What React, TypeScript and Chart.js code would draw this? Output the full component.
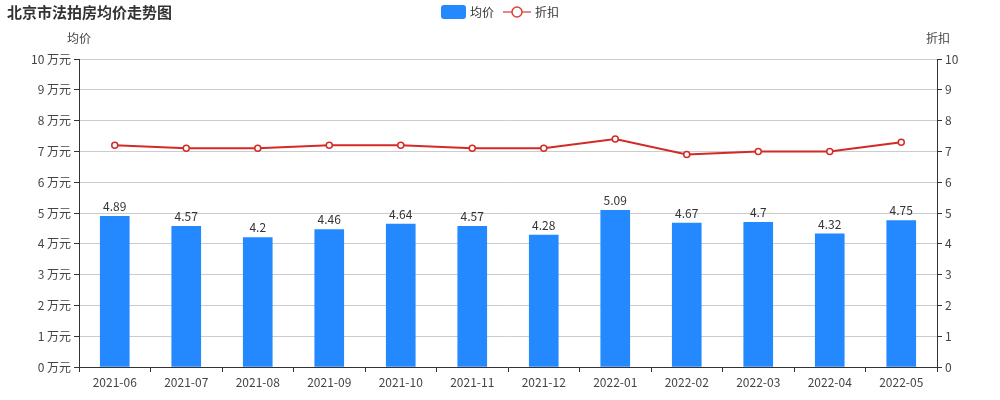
import React, { useEffect, useRef } from "react";
import { Chart, registerables } from "chart.js";

Chart.register(...registerables);

const months = ["2021-06","2021-07","2021-08","2021-09","2021-10","2021-11","2021-12","2022-01","2022-02","2022-03","2022-04","2022-05"];
const avgPrice = [4.89, 4.57, 4.2, 4.46, 4.64, 4.57, 4.28, 5.09, 4.67, 4.7, 4.32, 4.75];
const discount = [7.2, 7.1, 7.1, 7.2, 7.2, 7.1, 7.1, 7.4, 6.9, 7.0, 7.0, 7.3];
const titleText = "北京市法拍房均价走势图";
const leftAxisTitle = "均价";
const rightAxisTitle = "折扣";
const seriesNames = ["均价", "折扣"];

const FONT = "'Noto Sans CJK SC', 'Noto Sans', sans-serif";
const BAR_COLOR = "#2489ff";
const LINE_COLOR = "#d42a26";
const TEXT = "#444";

const overlay = {
  id: "overlay",
  afterDatasetsDraw(chart: any) {
    const ctx = chart.ctx;
    const meta = chart.getDatasetMeta(0);
    ctx.save();
    ctx.font = `12px ${FONT}`;
    ctx.fillStyle = "#333";
    ctx.textAlign = "center";
    ctx.textBaseline = "bottom";
    meta.data.forEach((bar: any, i: number) => {
      ctx.fillText(String(avgPrice[i]), bar.x, bar.y - 4);
    });
    ctx.restore();
  },
  afterDraw(chart: any) {
    const ctx = chart.ctx;
    const area = chart.chartArea;
    ctx.save();
    ctx.font = `bold 15px ${FONT}`;
    ctx.fillStyle = "#333";
    ctx.textAlign = "left";
    ctx.textBaseline = "middle";
    ctx.fillText(titleText, 7, 12);
    ctx.font = `12px ${FONT}`;
    ctx.fillStyle = TEXT;
    ctx.textAlign = "center";
    ctx.fillText(leftAxisTitle, area.left, 38);
    ctx.fillText(rightAxisTitle, area.right + 1, 38);
    const ly = 12;
    ctx.fillStyle = BAR_COLOR;
    ctx.beginPath();
    (ctx as any).roundRect(441, 5, 25, 14, 3);
    ctx.fill();
    ctx.fillStyle = "#333";
    ctx.textAlign = "left";
    ctx.fillText(seriesNames[0], 470, ly);
    ctx.strokeStyle = "#e58a87";
    ctx.lineWidth = 2;
    ctx.beginPath();
    ctx.moveTo(503, ly);
    ctx.lineTo(531, ly);
    ctx.stroke();
    ctx.beginPath();
    ctx.arc(517, ly, 5, 0, Math.PI * 2);
    ctx.fillStyle = "#fff";
    ctx.fill();
    ctx.strokeStyle = "#d9413a";
    ctx.lineWidth = 1.5;
    ctx.stroke();
    ctx.fillStyle = "#333";
    ctx.fillText(seriesNames[1], 535, ly);
    ctx.restore();
  },
};

export default function App() {
  const ref = useRef<HTMLCanvasElement>(null);
  useEffect(() => {
    if (!ref.current) return;
    const chart = new Chart(ref.current, {
      type: "bar",
      data: {
        labels: months,
        datasets: [
          {
            type: "bar",
            label: seriesNames[0],
            data: avgPrice,
            backgroundColor: BAR_COLOR,
            barThickness: 29,
            yAxisID: "y",
            order: 2,
          },
          {
            type: "line",
            label: seriesNames[1],
            data: discount,
            borderColor: LINE_COLOR,
            borderWidth: 2,
            pointRadius: 3,
            pointBackgroundColor: "#fff",
            pointBorderColor: LINE_COLOR,
            pointBorderWidth: 1.5,
            tension: 0,
            yAxisID: "y1",
            order: 1,
          } as any,
        ],
      },
      options: {
        responsive: false,
        animation: false,
        layout: { padding: { top: 59, left: 0, right: 0, bottom: 0 } },
        plugins: { legend: { display: false }, title: { display: false }, tooltip: { enabled: false } },
        scales: {
          x: {
            afterFit: (s: any) => { s.height = 33; },
            grid: { drawOnChartArea: false, offset: true, tickLength: 5, color: "#333" },
            border: { color: "#333" },
            ticks: { color: TEXT, font: { family: FONT, size: 12 }, padding: 3, maxRotation: 0, autoSkip: false },
          },
          y: {
            position: "left",
            min: 0,
            max: 10,
            afterFit: (s: any) => { s.width = 79; },
            grid: { color: "#cccccc", tickLength: 5, tickColor: "#333" } as any,
            border: { color: "#333" },
            ticks: { stepSize: 1, color: TEXT, font: { family: FONT, size: 12 }, padding: 3, callback: (v: any) => `${v} 万元` },
          },
          y1: {
            position: "right",
            min: 0,
            max: 10,
            afterFit: (s: any) => { s.width = 63; },
            grid: { drawOnChartArea: false, tickLength: 5, color: "#333" },
            border: { color: "#333" },
            ticks: { stepSize: 1, color: TEXT, font: { family: FONT, size: 12 }, padding: 3 },
          },
        },
      },
      plugins: [overlay],
    });
    return () => chart.destroy();
  }, []);
  return (
    <div style={{ position: "fixed", left: 0, top: 0, width: 1000, height: 400, background: "#fff" }}>
      <canvas ref={ref} width={1000} height={400} />
    </div>
  );
}
